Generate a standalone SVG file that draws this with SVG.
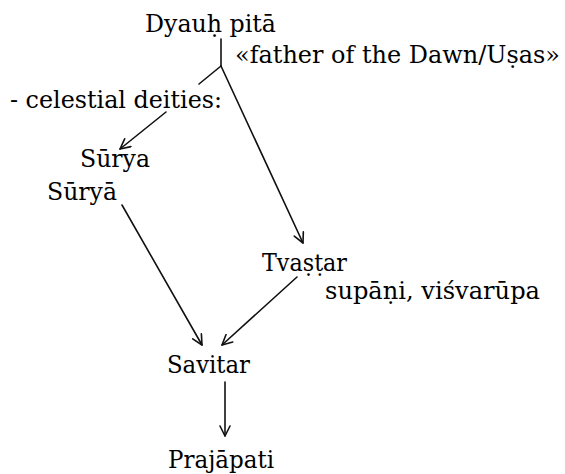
<svg xmlns="http://www.w3.org/2000/svg" width="565" height="474" viewBox="0 0 565 474">
  <style>
    .lbl { font-family: "DejaVu Serif", "Liberation Serif", serif; font-size: 23.5px; fill: #000; }
    .edge { stroke: #111; stroke-width: 1.6; fill: none; stroke-linecap: round; }
  </style>
  <defs>
    <marker id="arrow" viewBox="0 0 12 12" refX="11" refY="6" markerWidth="12" markerHeight="12" markerUnits="userSpaceOnUse" orient="auto">
      <path d="M1,1 L11,6 L1,11" fill="none" stroke="#111" stroke-width="1.6" stroke-linecap="round" stroke-linejoin="round"/>
    </marker>
  </defs>
  <rect width="565" height="474" fill="#fff"/>

  <g id="edges">
    <path class="edge" d="M221,39 L221,66"/>
    <path class="edge" d="M221,66 L199,84 M166,112 L120,149" marker-end="url(#arrow)"/>
    <path class="edge" d="M221,66 L303,243" marker-end="url(#arrow)"/>
    <path class="edge" d="M122,205 L202,345" marker-end="url(#arrow)"/>
    <path class="edge" d="M297,277 L222,345" marker-end="url(#arrow)"/>
    <path class="edge" d="M225,382 L225,436" marker-end="url(#arrow)"/>
  </g>

  <g id="dyauh-pita"><text class="lbl" x="145" y="32" textLength="131" lengthAdjust="spacingAndGlyphs">Dyauḥ pitā</text></g>
  <g id="father-of-dawn"><text class="lbl" x="235" y="63" textLength="325" lengthAdjust="spacingAndGlyphs">«father of the Dawn/Uṣas»</text></g>
  <g id="celestial-deities"><text class="lbl" x="10" y="108" textLength="212" lengthAdjust="spacingAndGlyphs">- celestial deities:</text></g>
  <g id="surya"><text class="lbl" x="80" y="167" textLength="70" lengthAdjust="spacingAndGlyphs">Sūrya</text></g>
  <g id="surya-f"><text class="lbl" x="47" y="200" textLength="70" lengthAdjust="spacingAndGlyphs">Sūryā</text></g>
  <g id="tvastar"><text class="lbl" x="262" y="271" textLength="85" lengthAdjust="spacingAndGlyphs">Tvaṣṭar</text></g>
  <g id="supani"><text class="lbl" x="325" y="299" textLength="215" lengthAdjust="spacingAndGlyphs">supāṇi, viśvarūpa</text></g>
  <g id="savitar"><text class="lbl" x="167" y="373" textLength="83" lengthAdjust="spacingAndGlyphs">Savitar</text></g>
  <g id="prajapati"><text class="lbl" x="168" y="468" textLength="106" lengthAdjust="spacingAndGlyphs">Prajāpati</text></g>
</svg>
